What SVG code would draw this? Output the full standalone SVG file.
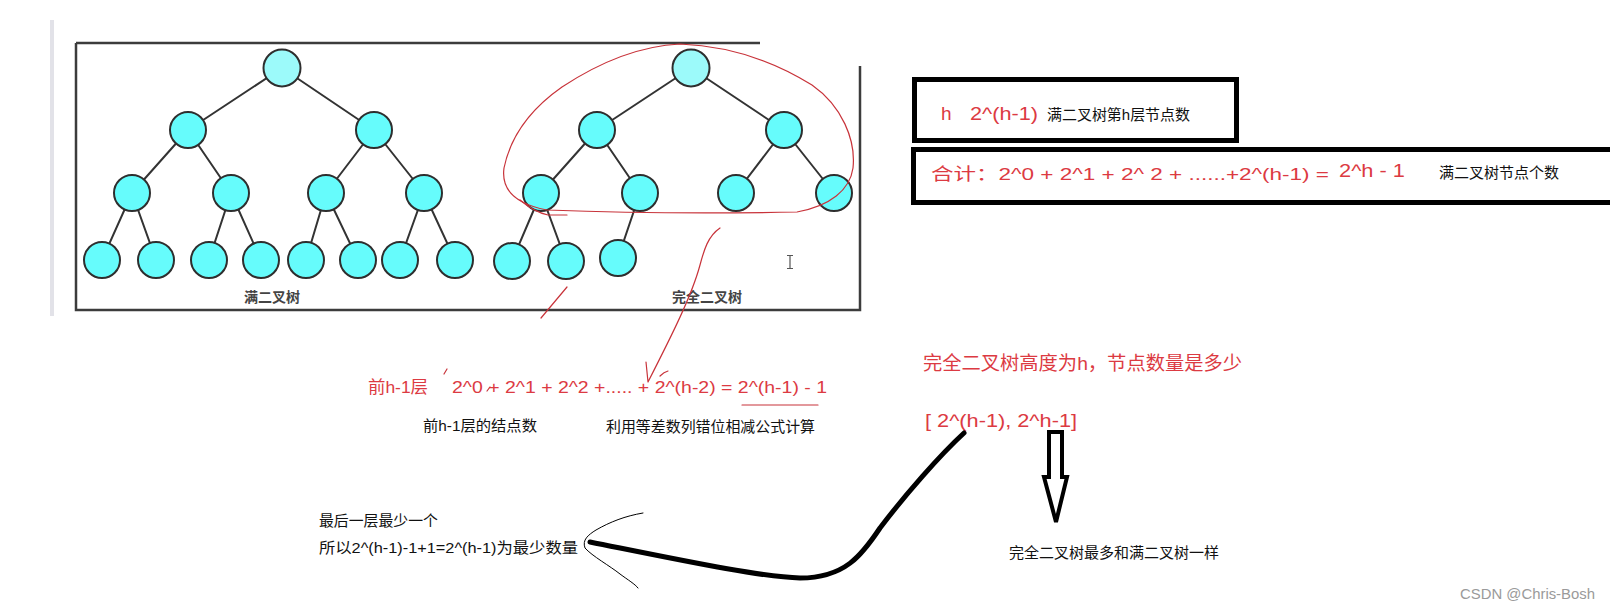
<svg xmlns="http://www.w3.org/2000/svg" width="1610" height="609" viewBox="0 0 1610 609">
<style>
.n{fill:#66fcfc;stroke:#2e2e2e;stroke-width:2}
.root{fill:#9cfafa}
.e{stroke:#333;stroke-width:2;fill:none}
.frame{stroke:#3c3c3c;stroke-width:2.5;fill:none}
.lbl{font-family:"Noto Sans CJK SC",sans-serif;font-size:14px;font-weight:bold;fill:#444}
.red{font-family:"Liberation Sans","Noto Sans CJK SC",sans-serif;fill:#dc3a42}
.blk{font-family:"Liberation Sans","Noto Sans CJK SC",sans-serif;fill:#111}
.ink{stroke:#c8333a;stroke-width:1.2;fill:none;stroke-linecap:round;stroke-linejoin:round}
.box{stroke:#000;stroke-width:5;fill:none}
</style>
<rect width="1610" height="609" fill="#fff"/>
<rect x="50" y="20" width="4" height="296" fill="#e2e2e8"/>
<g id="frame">
<path class="frame" d="M76,43 H760 M76,43 V310 H860 V66"/>
</g>
<g id="connectors">
<path class="e" d="M282,68 L188,130 M282,68 L374,130 M188,130 L132,193 M188,130 L231,193 M374,130 L326,193 M374,130 L424,193 M132,193 L102,260 M132,193 L156,260 M231,193 L209,260 M231,193 L261,260 M326,193 L306,260 M326,193 L358,260 M424,193 L400,260 M424,193 L455,260"/>
<path class="e" d="M691,68 L597,130 M691,68 L784,130 M597,130 L541,193 M597,130 L640,193 M784,130 L736,193 M784,130 L834,193 M541,193 L512,261 M541,193 L566,261 M640,193 L618,258"/>
</g>
<g id="full-tree">
<circle id="f1" class="n root" cx="282" cy="68" r="18.5"/>
<circle id="f2" class="n" cx="188" cy="130" r="18"/>
<circle id="f3" class="n" cx="374" cy="130" r="18"/>
<circle id="f4" class="n" cx="132" cy="193" r="18"/>
<circle id="f5" class="n" cx="231" cy="193" r="18"/>
<circle id="f6" class="n" cx="326" cy="193" r="18"/>
<circle id="f7" class="n" cx="424" cy="193" r="18"/>
<circle id="f8" class="n" cx="102" cy="260" r="18"/>
<circle id="f9" class="n" cx="156" cy="260" r="18"/>
<circle id="f10" class="n" cx="209" cy="260" r="18"/>
<circle id="f11" class="n" cx="261" cy="260" r="18"/>
<circle id="f12" class="n" cx="306" cy="260" r="18"/>
<circle id="f13" class="n" cx="358" cy="260" r="18"/>
<circle id="f14" class="n" cx="400" cy="260" r="18"/>
<circle id="f15" class="n" cx="455" cy="260" r="18"/>
<text class="lbl" x="272" y="302" text-anchor="middle">满二叉树</text>
</g>
<g id="complete-tree">
<circle id="c1" class="n root" cx="691" cy="68" r="18.5"/>
<circle id="c2" class="n" cx="597" cy="130" r="18"/>
<circle id="c3" class="n" cx="784" cy="130" r="18"/>
<circle id="c4" class="n" cx="541" cy="193" r="18"/>
<circle id="c5" class="n" cx="640" cy="193" r="18"/>
<circle id="c6" class="n" cx="736" cy="193" r="18"/>
<circle id="c7" class="n" cx="834" cy="193" r="18"/>
<circle id="c8" class="n" cx="512" cy="261" r="18"/>
<circle id="c9" class="n" cx="566" cy="261" r="18"/>
<circle id="c10" class="n" cx="618" cy="258" r="18"/>
<text class="lbl" x="707" y="302" text-anchor="middle">完全二叉树</text>
</g>
<g id="cursor" stroke="#555" stroke-width="1.2" fill="none">
<path d="M790,256 V268 M787,255.5 H793 M787,268.5 H793"/>
</g>
<g id="red-marks">
<path class="ink" d="M680,44 C640,46 600,62 562,87 C532,108 511,134 504,168 C501,190 516,204 547,210 C600,212 700,214 797,212 C830,206 850,190 853,168 C856,140 842,106 812,85 C772,60 730,46 680,44 Z"/>
<path class="ink" d="M520,200 Q534,212 548,215 L567,215"/>
<path class="ink" d="M567,287 L541,318"/>
<path class="ink" d="M720,228 C708,236 704,250 700,265 C692,295 672,335 648,382 L646,362"/>
<path class="ink" d="M660,376 Q664,372 668,371"/>
<path class="ink" d="M444,374 L447,369"/>
<path class="ink" d="M487,391 L490,387"/>
<path class="ink" d="M742,405 H818"/>
</g>
<g id="box-layer">
<rect class="box" x="914.5" y="79.5" width="322" height="61"/>
<text class="red" x="941" y="120" font-size="19">h</text>
<text class="red" x="970" y="120" font-size="19" textLength="68" lengthAdjust="spacingAndGlyphs">2^(h-1)</text>
<text class="blk" x="1047" y="120" font-size="15" textLength="143" lengthAdjust="spacingAndGlyphs">满二叉树第h层节点数</text>
</g>
<g id="box-total">
<rect class="box" x="913.5" y="149.5" width="710" height="53"/>
<text class="red" x="931" y="180" font-size="17" textLength="398" lengthAdjust="spacingAndGlyphs">合计：2^0 + 2^1  + 2^ 2 + ......+2^(h-1)  =</text>
<text class="red" x="1339" y="177" font-size="18" textLength="66" lengthAdjust="spacingAndGlyphs">2^h - 1</text>
<text class="blk" x="1439" y="178" font-size="15" textLength="120" lengthAdjust="spacingAndGlyphs">满二叉树节点个数</text>
</g>
<g id="formula">
<text class="red" x="368" y="393" font-size="17" textLength="60" lengthAdjust="spacingAndGlyphs">前h-1层</text>
<text class="red" x="452" y="393" font-size="17" textLength="375" lengthAdjust="spacingAndGlyphs">2^0 + 2^1 + 2^2 +..... + 2^(h-2) = 2^(h-1) - 1</text>
<text class="blk" x="423" y="431" font-size="15" textLength="114" lengthAdjust="spacingAndGlyphs">前h-1层的结点数</text>
<text class="blk" x="606" y="432" font-size="15" textLength="209" lengthAdjust="spacingAndGlyphs">利用等差数列错位相减公式计算</text>
</g>
<g id="question">
<text class="red" x="923" y="370" font-size="19" textLength="319" lengthAdjust="spacingAndGlyphs">完全二叉树高度为h，节点数量是多少</text>
<text class="red" x="925" y="427" font-size="19" textLength="152" lengthAdjust="spacingAndGlyphs">[ 2^(h-1), 2^h-1]</text>
</g>
<g id="max-arrow">
<polygon points="1049,432 1062,432 1062,477 1067,477 1056,522 1044,477 1049,477" fill="#fff" stroke="#000" stroke-width="4" stroke-linejoin="miter"/>
<text class="blk" x="1009" y="558" font-size="15" textLength="210" lengthAdjust="spacingAndGlyphs">完全二叉树最多和满二叉树一样</text>
</g>
<g id="min-note">
<text class="blk" x="319" y="526" font-size="15" textLength="119" lengthAdjust="spacingAndGlyphs">最后一层最少一个</text>
<text class="blk" x="319" y="553" font-size="15" textLength="259" lengthAdjust="spacingAndGlyphs">所以2^(h-1)-1+1=2^(h-1)为最少数量</text>
</g>
<g id="min-arrow" fill="none" stroke="#000" stroke-linecap="round" stroke-linejoin="round">
<path d="M964,433 C940,455 905,495 880,528 C862,555 845,578 800,578 C760,577 680,560 590,542" stroke-width="5"/>
<path d="M643,513 C625,516 610,522 596,530 C588,535 582,540 585,548 C592,556 610,566 620,574 C628,580 635,584 638,588" stroke-width="1"/>
</g>
<text x="1460" y="599" font-family="Liberation Sans, sans-serif" font-size="15" fill="#9a9a9a" textLength="135" lengthAdjust="spacingAndGlyphs">CSDN @Chris-Bosh</text>
</svg>
